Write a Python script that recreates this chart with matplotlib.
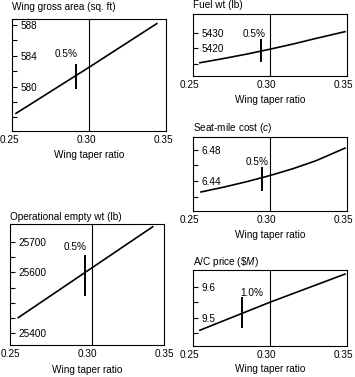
import matplotlib.pyplot as plt
from matplotlib.transforms import ScaledTranslation

plt.rcParams['font.family'] = ['Liberation Sans', 'DejaVu Sans']
plt.rcParams['font.size'] = 7.2
plt.rcParams['mathtext.fontset'] = 'custom'
plt.rcParams['mathtext.rm'] = 'Liberation Sans'
plt.rcParams['mathtext.it'] = 'Liberation Sans:italic'

# ---- data (taper ratio vs. quantity) ----
area_x = [0.2526, 0.300, 0.344]
area_y = [576.5, 582.5, 588.2]

fuel_x = [0.2545, 0.270, 0.285, 0.300, 0.315, 0.330, 0.3487]
fuel_y = [5410.5, 5413.3, 5416.2, 5419.4, 5422.8, 5426.5, 5430.9]

cost_x = [0.2552, 0.270, 0.285, 0.300, 0.315, 0.330, 0.3487]
cost_y = [6.426, 6.4322, 6.4392, 6.4470, 6.4558, 6.4660, 6.482]

oew_x = [0.2554, 0.3427]
oew_y = [25450, 25752]

price_x = [0.2545, 0.300, 0.3487]
price_y = [9.4605, 9.550, 9.640]

# sensitivity bars: x, low, high, label, label x, label y
area_bar = (0.2916, 579.65, 582.9, '0.5%', 0.2854, 584.3)
fuel_bar = (0.2940, 5411.2, 5425.9, '0.5%', 0.2899, 5429.5)
cost_bar = (0.2950, 6.4273, 6.4583, '0.5%', 0.2919, 6.4647)
oew_bar = (0.2990, 25522, 25658, '0.5%', 0.2921, 25685)
price_bar = (0.2816, 9.466, 9.568, '1.0%', 0.2881, 9.579)

# tick values
area_major, area_minor = [580, 584, 588], [576, 578, 582, 586]
fuel_major, fuel_minor = [5420, 5430], [5410]
cost_major, cost_minor = [6.44, 6.48], [6.42, 6.46]
oew_major, oew_minor = [25400, 25600, 25700], [25450, 25500, 25550, 25650]
price_major, price_minor = [9.5, 9.6], [9.45, 9.55]

x_ticks = [0.25, 0.30, 0.35]
x_ticklabels = ['0.25', '0.30', '0.35']

W, H = 355, 377
fig = plt.figure(figsize=(W / 100, H / 100), dpi=100)


def add_panel(box, title, tpad, xs, ys, ylim, major, major_lbl, minor, bar,
              vx=0.30, xlpad=3.6, lshift=3.5):
    l, t, r, b = box
    ax = fig.add_axes([l / W, 1 - b / H, (r - l) / W, (b - t) / H])
    ax.plot(xs, ys, color='black', lw=1.2)
    ax.axvline(vx, color='black', lw=0.8)
    bx, lo, hi, txt, tx, ty = bar
    ax.vlines(bx, lo, hi, color='black', lw=1.4)
    ax.text(tx, ty, txt, ha='center', va='center')
    ax.set_xlim(0.25, 0.35)
    ax.set_ylim(*ylim)
    ax.set_xticks(x_ticks)
    ax.set_xticklabels(x_ticklabels)
    ax.set_yticks(major)
    ax.set_yticklabels(major_lbl, ha='left')
    ax.set_yticks(minor, minor=True)
    ax.tick_params(axis='x', length=0, pad=3)
    ax.tick_params(axis='y', which='both', direction='in', length=4.5 * 0.72,
                   width=0.8, pad=-6)
    # the printed tick labels sit a little left of their ticks
    shift = ScaledTranslation(-lshift / 100, 0, fig.dpi_scale_trans)
    for lab in ax.get_xticklabels():
        lab.set_transform(lab.get_transform() + shift)
    for s in ax.spines.values():
        s.set_linewidth(0.8)
    ax.set_title(title, loc='left', pad=tpad, fontsize=7.2)
    ax.set_xlabel('Wing taper ratio', labelpad=xlpad)
    return ax


add_panel((12, 19, 166, 131), 'Wing gross area (sq. ft)', 6.5,
          area_x, area_y, (574.2, 588.8), area_major, ['580', '584', '588'],
          area_minor, area_bar, lshift=2.2)
add_panel((193, 14, 347, 76), 'Fuel wt (lb)', 4.0,
          fuel_x, fuel_y, (5401.8, 5442.5), fuel_major, ['5420', '5430'],
          fuel_minor, fuel_bar)
add_panel((193, 137, 347, 211), r'Seat-mile cost ($\mathit{c}$)', 4.2,
          cost_x, cost_y, (6.4017, 6.4962), cost_major, ['6.44', '6.48'],
          cost_minor, cost_bar)
add_panel((10, 224, 164, 345), 'Operational empty wt (lb)', 3.0,
          oew_x, oew_y, (25359, 25761), oew_major, ['25400', '25600', '25700'],
          oew_minor, oew_bar, vx=0.3035, xlpad=4.2, lshift=0)
add_panel((193, 270, 347, 346), r'A/C price (\$$\mathit{M}$)', 3.5,
          price_x, price_y, (9.41, 9.653), price_major, ['9.5', '9.6'],
          price_minor, price_bar, xlpad=3)

fig.savefig('out.png', dpi=100)
